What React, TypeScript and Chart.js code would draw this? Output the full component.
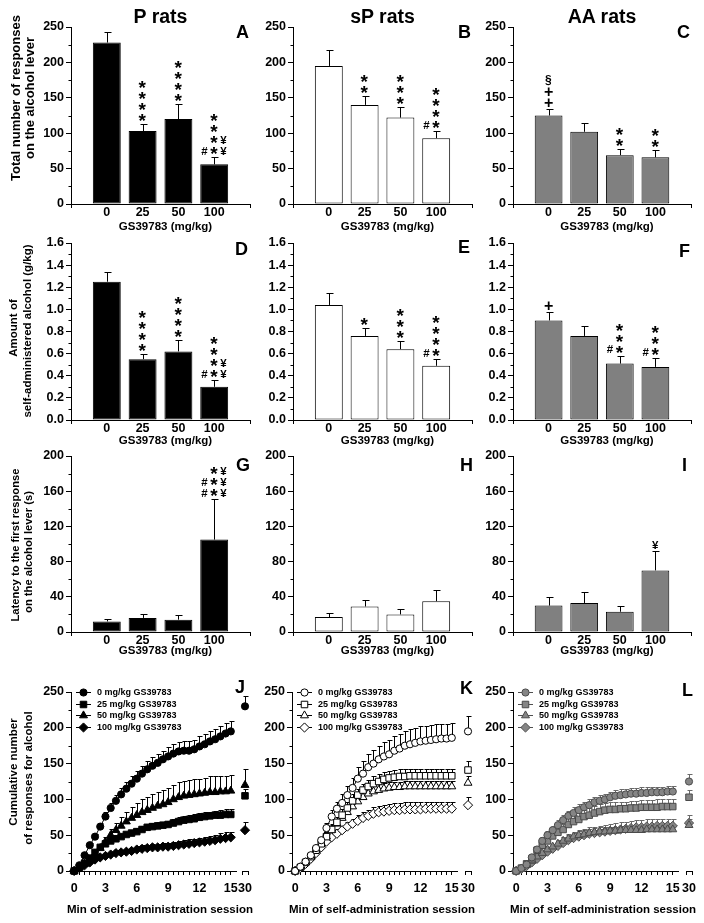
import React, { useEffect, useRef } from 'react';
import { Chart, registerables } from 'chart.js';

Chart.register(...registerables);

const ARIAL = '"Liberation Sans", Arial, sans-serif';

// ---------------- data ----------------
const doseLabels = ['0', '25', '50', '100'];
const strainTitles = ['P rats', 'sP rats', 'AA rats'];

// A-C: total number of responses on the alcohol lever
const responsesP = [228, 103, 120, 56];
const responsesPErr = [15, 10, 21, 10];
const responsesSP = [195, 140, 122, 93];
const responsesSPErr = [22, 12, 15, 10];
const responsesAA = [125, 102, 69, 66];
const responsesAAErr = [9, 12, 9, 10];

// D-F: amount of self-administered alcohol (g/kg)
const alcoholP = [1.25, 0.55, 0.62, 0.3];
const alcoholPErr = [0.09, 0.05, 0.1, 0.06];
const alcoholSP = [1.04, 0.76, 0.64, 0.49];
const alcoholSPErr = [0.11, 0.07, 0.07, 0.06];
const alcoholAA = [0.9, 0.76, 0.51, 0.48];
const alcoholAAErr = [0.08, 0.09, 0.07, 0.08];

// G-I: latency to the first response (s)
const latencyP = [12, 16, 14, 105];
const latencyPErr = [3, 5, 5, 46];
const latencySP = [17, 29, 20, 35];
const latencySPErr = [5, 7, 6, 13];
const latencyAA = [30, 33, 23, 70];
const latencyAAErr = [10, 12, 7, 22];

// significance marks per bar: [centre column, left column, right column], top to bottom
const sigA = [['', '', ''], ['****', '', ''], ['****', '', ''], ['****', '#', '¥¥']];
const sigB = [['', '', ''], ['**', '', ''], ['***', '', ''], ['****', '#', '']];
const sigC = [['§++', '', ''], ['', '', ''], ['**', '', ''], ['**', '', '']];
const sigD = [['', '', ''], ['****', '', ''], ['****', '', ''], ['****', '#', '¥¥']];
const sigE = [['', '', ''], ['*', '', ''], ['***', '', ''], ['****', '#', '']];
const sigF = [['+', '', ''], ['', '', ''], ['***', '#', ''], ['***', '#', '']];
const sigG = [['', '', ''], ['', '', ''], ['', '', ''], ['***', '##', '¥¥¥']];
const sigH = [['', '', ''], ['', '', ''], ['', '', ''], ['', '', '']];
const sigI = [['', '', ''], ['', '', ''], ['', '', ''], ['¥', '', '']];

// J-L: cumulative responses, every 30 s over 15 min, plus the 30-min value
const minutes = [0, 0.5, 1, 1.5, 2, 2.5, 3, 3.5, 4, 4.5, 5, 5.5, 6, 6.5, 7, 7.5, 8, 8.5, 9, 9.5, 10, 10.5, 11, 11.5, 12, 12.5, 13, 13.5, 14, 14.5, 15];
const lateMinute = 30;

const cumP0 = [0, 8, 22, 36, 48, 62, 76, 88, 98, 107, 115, 122, 129, 136, 142, 147, 151, 156, 160, 164, 167, 168, 168, 170, 174, 177, 181, 184, 188, 192, 195];
const cumP0Err = [0, 1, 2, 3, 4, 5, 6, 7, 8, 9, 10, 10, 11, 11, 12, 12, 12, 12, 13, 13, 13, 13, 13, 13, 14, 14, 14, 14, 14, 15, 15];
const cumP25 = [0, 5, 11, 18, 26, 33, 38, 42, 45, 48, 51, 53, 55, 58, 61, 62, 63, 64, 65, 67, 69, 71, 72, 73, 75, 76, 77, 78, 78, 79, 79];
const cumP25Err = [0, 1, 2, 2, 3, 3, 3, 4, 4, 4, 4, 4, 5, 5, 5, 5, 5, 5, 5, 5, 6, 6, 6, 6, 6, 6, 6, 6, 7, 7, 7];
const cumP50 = [0, 5, 10, 16, 24, 32, 41, 50, 57, 63, 69, 74, 78, 82, 85, 88, 91, 93, 96, 100, 103, 105, 106, 107, 108, 109, 110, 110, 111, 111, 112];
const cumP50Err = [0, 1, 2, 3, 4, 5, 6, 8, 10, 12, 14, 16, 17, 18, 19, 20, 20, 20, 20, 20, 21, 21, 21, 21, 21, 21, 22, 22, 22, 22, 22];
const cumP100 = [0, 4, 8, 12, 16, 19, 21, 23, 25, 26, 27, 28, 30, 31, 32, 33, 33, 34, 34, 35, 36, 37, 38, 39, 40, 41, 42, 43, 45, 46, 47];
const cumP100Err = [0, 1, 1, 2, 2, 3, 3, 3, 4, 4, 4, 4, 5, 5, 5, 5, 5, 5, 5, 5, 6, 6, 6, 6, 6, 7, 7, 7, 8, 8, 8];
const lateP = [230, 105, 120, 57];
const latePErr = [14, 10, 22, 11];

const cumSP0 = [0, 6, 13, 22, 32, 43, 60, 76, 87, 95, 106, 116, 129, 136, 145, 150, 156, 160, 163, 168, 171, 175, 177, 179, 181, 182, 183, 184, 185, 185, 186];
const cumSP0Err = [0, 1, 2, 3, 4, 5, 7, 9, 10, 12, 13, 14, 16, 17, 18, 19, 19, 20, 20, 20, 20, 20, 21, 21, 21, 21, 21, 21, 21, 21, 21];
const cumSP25 = [0, 5, 12, 20, 29, 38, 48, 58, 68, 78, 88, 98, 106, 113, 118, 122, 125, 128, 130, 131, 132, 132, 133, 133, 133, 133, 133, 133, 133, 133, 133];
const cumSP25Err = [0, 1, 2, 3, 4, 5, 6, 7, 8, 8, 9, 9, 9, 9, 9, 10, 10, 10, 10, 10, 10, 10, 10, 10, 10, 10, 10, 10, 10, 10, 10];
const cumSP50 = [0, 5, 12, 20, 29, 38, 48, 57, 66, 74, 82, 90, 97, 103, 108, 111, 113, 115, 116, 117, 117, 118, 118, 118, 118, 118, 118, 118, 118, 118, 118];
const cumSP50Err = [0, 1, 2, 3, 4, 5, 6, 7, 7, 8, 8, 8, 8, 8, 8, 8, 8, 8, 8, 8, 8, 8, 8, 8, 8, 8, 8, 8, 8, 8, 8];
const cumSP100 = [0, 4, 10, 17, 25, 33, 41, 47, 52, 57, 62, 66, 70, 74, 77, 80, 82, 83, 84, 85, 85, 86, 86, 86, 86, 87, 87, 87, 87, 87, 87];
const cumSP100Err = [0, 1, 2, 3, 3, 4, 5, 5, 6, 6, 7, 7, 8, 8, 8, 9, 9, 9, 9, 10, 10, 10, 10, 10, 10, 10, 10, 10, 10, 10, 10];
const lateSP = [195, 141, 123, 92];
const lateSPErr = [22, 12, 10, 11];

const cumAA0 = [0, 4, 9, 19, 30, 42, 50, 57, 64, 71, 77, 81, 85, 89, 92, 96, 98, 100, 103, 105, 106, 107, 108, 108, 109, 109, 110, 110, 110, 111, 111];
const cumAA0Err = [0, 1, 2, 3, 4, 5, 6, 6, 7, 7, 7, 8, 8, 8, 8, 8, 8, 8, 8, 8, 8, 8, 8, 8, 8, 8, 8, 8, 8, 8, 8];
const cumAA25 = [0, 4, 10, 17, 29, 36, 42, 49, 54, 58, 65, 69, 72, 76, 78, 81, 83, 85, 86, 86, 87, 87, 88, 88, 89, 89, 89, 89, 90, 90, 90];
const cumAA25Err = [0, 1, 2, 3, 4, 5, 6, 7, 8, 8, 9, 9, 9, 9, 10, 10, 10, 10, 10, 10, 10, 10, 10, 10, 10, 10, 10, 11, 11, 11, 11];
const cumAA50 = [0, 3, 8, 14, 20, 25, 30, 34, 38, 42, 45, 48, 50, 51, 53, 54, 55, 55, 56, 56, 57, 57, 57, 57, 57, 58, 58, 58, 58, 58, 58];
const cumAA50Err = [0, 1, 2, 2, 3, 3, 4, 4, 5, 5, 5, 5, 6, 6, 6, 6, 6, 6, 6, 6, 6, 6, 6, 6, 6, 6, 6, 6, 6, 6, 6];
const cumAA100 = [0, 3, 7, 12, 17, 22, 27, 31, 35, 39, 43, 46, 48, 50, 52, 53, 54, 55, 56, 57, 58, 59, 60, 61, 61, 62, 62, 63, 63, 63, 63];
const cumAA100Err = [0, 1, 2, 3, 4, 5, 6, 7, 7, 8, 8, 8, 9, 9, 9, 9, 9, 9, 9, 10, 10, 10, 10, 10, 10, 10, 10, 10, 10, 10, 10];
const lateAA = [125, 103, 64, 67];
const lateAAErr = [10, 10, 8, 11];

// ---------------- layout & style ----------------
const COLS = [
  { cx: 0, cw: 258, L: 71, R: 250 },
  { cx: 258, cw: 222, L: 293, R: 472 },
  { cx: 480, cw: 224, L: 513, R: 691 },
];
const BAR_ROWS = [
  { cy: 0, ch: 240, T: 27, B: 204 },
  { cy: 223, ch: 227, T: 243, B: 420 },
  { cy: 436, ch: 229, T: 456, B: 632 },
];
const LINE_COLS = [
  { cx: 0, cw: 246, L: 71, R: 236, late: 245 },
  { cx: 258, cw: 210, L: 292, R: 457, late: 468 },
  { cx: 480, cw: 210, L: 513, R: 678, late: 689 },
];
const LINE_ROW = { cy: 672, ch: 251, T: 692, B: 871 };

const tickFont = { family: ARIAL, size: 12.5, weight: 'bold' as const, lineHeight: 1 };
const barFills = ['#000000', '#ffffff', '#808080'];
const seriesStyles = [
  { line: '#000000', fill: '#000000', edge: '#000000', err: '#000000' },
  { line: '#000000', fill: '#ffffff', edge: '#000000', err: '#000000' },
  { line: '#505050', fill: '#858585', edge: '#4a4a4a', err: '#6a6a6a' },
];
const markerStyles = ['circle', 'rect', 'triangle', 'rectRot'];
const markerRadius = [3.6, 4.6, 4.6, 4.6];
const glyphSizes: Record<string, number> = { '*': 19, '+': 16, '§': 12, '#': 11.5, '¥': 11.5 };

// ---------------- drawing helpers ----------------
function drawGlyph(ctx: CanvasRenderingContext2D, ch: string, cx: number, cy: number) {
  ctx.save();
  ctx.font = `bold ${glyphSizes[ch] || 11.5}px ${ARIAL}`;
  ctx.fillStyle = '#000';
  ctx.textAlign = 'left';
  ctx.textBaseline = 'alphabetic';
  const m = ctx.measureText(ch);
  const x = cx - (m.actualBoundingBoxRight - m.actualBoundingBoxLeft) / 2;
  const y = cy + (m.actualBoundingBoxAscent - m.actualBoundingBoxDescent) / 2;
  ctx.fillText(ch, x, y);
  ctx.restore();
}

function drawMarker(ctx: CanvasRenderingContext2D, style: string, x: number, y: number, r: number) {
  ctx.beginPath();
  if (style === 'circle') ctx.arc(x, y, r, 0, Math.PI * 2);
  else if (style === 'rect') {
    const s = r * Math.SQRT1_2;
    ctx.rect(x - s, y - s, 2 * s, 2 * s);
  } else if (style === 'triangle') {
    ctx.moveTo(x, y - r);
    ctx.lineTo(x + r * Math.sin((2 * Math.PI) / 3), y - r * Math.cos((2 * Math.PI) / 3));
    ctx.lineTo(x + r * Math.sin((4 * Math.PI) / 3), y - r * Math.cos((4 * Math.PI) / 3));
  } else {
    ctx.moveTo(x - r, y);
    ctx.lineTo(x, y - r);
    ctx.lineTo(x + r, y);
    ctx.lineTo(x, y + r);
  }
  ctx.closePath();
  ctx.fill();
  ctx.stroke();
}

const decor = {
  id: 'decor',
  beforeDatasetsDraw(chart: any, _args: any, opts: any) {
    const ctx = chart.ctx;
    const ys = chart.scales.y;
    chart.data.datasets.forEach((ds: any, di: number) => {
      if (!ds.errorBars) return;
      const meta = chart.getDatasetMeta(di);
      ctx.save();
      ctx.strokeStyle = ds.errorColor || '#000';
      ctx.lineWidth = 1;
      meta.data.forEach((el: any, j: number) => {
        const e = ds.errorBars[j];
        if (!e) return;
        const v = ds.data[j].y;
        const x = Math.round(el.x) + 0.5;
        const yTop = Math.round(ys.getPixelForValue(v + e)) + 0.5;
        ctx.beginPath();
        ctx.moveTo(x, el.y);
        ctx.lineTo(x, yTop);
        ctx.moveTo(x - opts.cap, yTop);
        ctx.lineTo(x + opts.cap + 1, yTop);
        ctx.stroke();
      });
      ctx.restore();
    });
  },
  afterDraw(chart: any, _args: any, opts: any) {
    const ctx = chart.ctx;
    const ys = chart.scales.y;
    const area = chart.chartArea;
    if (opts.minorStep) {
      ctx.save();
      ctx.strokeStyle = '#000';
      ctx.lineWidth = 1;
      const ratio = Math.round(opts.majorStep / opts.minorStep);
      const count = Math.round((ys.max - ys.min) / opts.minorStep);
      const x = Math.round(area.left) + 0.5;
      for (let i = 1; i < count; i++) {
        if (i % ratio === 0) continue;
        const y = Math.round(ys.getPixelForValue(ys.min + i * opts.minorStep)) + 0.5;
        ctx.beginPath();
        ctx.moveTo(x - opts.minorLen, y);
        ctx.lineTo(x, y);
        ctx.stroke();
      }
      ctx.restore();
    }
    chart.data.datasets.forEach((ds: any, di: number) => {
      if (!ds.sig) return;
      const meta = chart.getDatasetMeta(di);
      meta.data.forEach((el: any, j: number) => {
        const marks = ds.sig[j];
        if (!marks) return;
        const top = ys.getPixelForValue(ds.data[j].y + ((ds.errorBars && ds.errorBars[j]) || 0));
        const base = top - opts.sigGap;
        const put = (str: string, dx: number) => {
          const chars = Array.from(str);
          chars.forEach((ch, k) => {
            const fromBottom = chars.length - 1 - k;
            drawGlyph(ctx, ch, el.x + dx, base - fromBottom * opts.sigStep);
          });
        };
        put(marks[0], 0);
        put(marks[1], -opts.sigSide);
        put(marks[2], opts.sigSide);
      });
    });
    if (opts.legend) {
      ctx.save();
      chart.data.datasets.forEach((ds: any, i: number) => {
        const y = Math.round(area.top + opts.legendTop + i * opts.legendGap) + 0.5;
        const x0 = area.left + opts.legendLeft;
        ctx.strokeStyle = ds.borderColor;
        ctx.lineWidth = 1;
        ctx.beginPath();
        ctx.moveTo(x0, y);
        ctx.lineTo(x0 + opts.legendLine, y);
        ctx.stroke();
        ctx.fillStyle = ds.pointBackgroundColor;
        ctx.strokeStyle = ds.pointBorderColor;
        drawMarker(ctx, ds.pointStyle, x0 + opts.legendLine / 2, y, ds.pointRadius);
        ctx.fillStyle = '#000';
        ctx.font = `bold ${opts.legendSize}px ${ARIAL}`;
        ctx.textBaseline = 'middle';
        ctx.textAlign = 'left';
        ctx.fillText(ds.label, x0 + opts.legendLine + opts.legendTextGap, y + 0.5);
      });
      ctx.restore();
    }
  },
};

// ---------------- chart configs ----------------
function barConfig(values: number[], errors: number[], sig: string[][], fill: string, yMax: number, yStep: number, yMinor: number, decimals: number, col: any, row: any) {
  const n = doseLabels.length;
  const xH = row.cy + row.ch - row.B;
  const yW = col.L - col.cx;
  return {
    type: 'bar',
    data: {
      datasets: [{
        data: values.map((v, i) => ({ x: i + 1, y: v })),
        backgroundColor: fill,
        borderColor: '#000',
        borderWidth: 1,
        borderSkipped: false,
        categoryPercentage: 1,
        barPercentage: 0.78,
        errorBars: errors,
        errorColor: '#000',
        sig,
      }],
    },
    options: {
      responsive: false,
      animation: false,
      events: [],
      layout: { padding: { top: row.T - row.cy, right: col.cx + col.cw - col.R, left: 0, bottom: 0 } },
      plugins: {
        legend: { display: false },
        tooltip: { enabled: false },
        decor: { cap: 3, minorStep: yMinor, majorStep: yStep, minorLen: 3, sigGap: 6.5, sigStep: 11, sigSide: 9.5 },
      },
      scales: {
        x: {
          type: 'linear', min: 0, max: n + 1, offset: false,
          afterBuildTicks: (s: any) => { s.ticks = [0, ...doseLabels.map((_, i) => i + 1), n + 1].map((value) => ({ value })); },
          afterFit: (s: any) => { s.height = xH; },
          ticks: { autoSkip: false, maxRotation: 0, minRotation: 0, padding: -1.5, color: '#000', font: tickFont, callback: (v: number) => doseLabels[v - 1] ?? '' },
          grid: { drawOnChartArea: false, tickLength: 4, offset: false, color: (c: any) => (c.tick && (c.tick.value === 0 || c.tick.value === n + 1) ? '#000' : 'rgba(0,0,0,0)') },
          border: { color: '#000', width: 1 },
        },
        y: {
          min: 0, max: yMax,
          afterFit: (s: any) => { s.width = yW; },
          ticks: { stepSize: yStep, padding: 2, color: '#000', font: tickFont, callback: (v: number) => Number(v).toFixed(decimals) },
          grid: { drawOnChartArea: false, tickLength: 5, color: '#000' },
          border: { color: '#000', width: 1 },
        },
      },
    },
    plugins: [decor],
  };
}

function lineDatasets(series: any[], style: any, late: boolean) {
  return series.map((s, i) => ({
    label: `${doseLabels[i]} mg/kg GS39783`,
    data: late ? [{ x: lateMinute, y: s.late }] : minutes.map((m, k) => ({ x: m, y: s.values[k] })),
    errorBars: late ? [s.lateErr] : s.errors,
    errorColor: style.err,
    borderColor: style.line,
    borderWidth: 1,
    backgroundColor: style.fill,
    pointStyle: markerStyles[i],
    pointRadius: markerRadius[i],
    pointBackgroundColor: style.fill,
    pointBorderColor: style.edge,
    pointBorderWidth: 1,
    showLine: !late,
    tension: 0,
    clip: false,
  }));
}

function lineConfig(series: any[], style: any, col: any) {
  const xH = LINE_ROW.cy + LINE_ROW.ch - LINE_ROW.B;
  return {
    type: 'line',
    data: { datasets: lineDatasets(series, style, false) },
    options: {
      responsive: false, animation: false, events: [],
      layout: { padding: { top: LINE_ROW.T - LINE_ROW.cy, right: col.cx + col.cw - col.R, left: 0, bottom: 0 } },
      plugins: {
        legend: { display: false }, tooltip: { enabled: false },
        decor: { cap: 2, minorStep: 25, majorStep: 50, minorLen: 3, legend: true, legendTop: 0, legendGap: 11.7, legendLeft: 5, legendLine: 15, legendTextGap: 6, legendSize: 9 },
      },
      scales: {
        x: {
          type: 'linear', min: -0.3, max: 15.5,
          afterBuildTicks: (s: any) => { s.ticks = minutes.map((value) => ({ value })); },
          afterFit: (s: any) => { s.height = xH; },
          ticks: { autoSkip: false, maxRotation: 0, minRotation: 0, padding: 7.75, color: '#000', font: tickFont, callback: (v: number) => (v % 3 === 0 ? String(v) : '') },
          grid: { drawOnChartArea: false, tickLength: 4, color: '#000' },
          border: { color: '#000', width: 1 },
        },
        y: {
          min: 0, max: 250,
          afterFit: (s: any) => { s.width = col.L - col.cx; },
          ticks: { stepSize: 50, padding: 2, color: '#000', font: tickFont },
          grid: { drawOnChartArea: false, tickLength: 5, color: '#000' },
          border: { color: '#000', width: 1 },
        },
      },
    },
    plugins: [decor],
  };
}

function lateConfig(series: any[], style: any) {
  const xH = LINE_ROW.cy + LINE_ROW.ch - LINE_ROW.B;
  return {
    type: 'line',
    data: { datasets: lineDatasets(series, style, true) },
    options: {
      responsive: false, animation: false, events: [],
      layout: { padding: { top: LINE_ROW.T - LINE_ROW.cy, right: 10, left: 10, bottom: 0 } },
      plugins: { legend: { display: false }, tooltip: { enabled: false }, decor: { cap: 2 } },
      scales: {
        x: {
          type: 'linear', min: lateMinute - 0.5, max: lateMinute + 0.5,
          afterBuildTicks: (s: any) => { s.ticks = [lateMinute - 0.5, lateMinute, lateMinute + 0.5].map((value) => ({ value })); },
          afterFit: (s: any) => { s.height = xH; },
          ticks: { autoSkip: false, maxRotation: 0, minRotation: 0, padding: 7.75, color: '#000', font: tickFont, callback: (v: number) => (v === lateMinute ? String(lateMinute) : '') },
          grid: { drawOnChartArea: false, tickLength: 4, color: (c: any) => (c.tick && c.tick.value === lateMinute ? 'rgba(0,0,0,0)' : '#000') },
          border: { color: '#000', width: 1 },
        },
        y: { display: false, min: 0, max: 250 },
      },
    },
    plugins: [decor],
  };
}

// ---------------- components ----------------
function ChartBox({ config, left, top, width, height }: any) {
  const ref = useRef<HTMLCanvasElement>(null);
  useEffect(() => {
    const chart = new Chart(ref.current as HTMLCanvasElement, config);
    return () => chart.destroy();
  }, []);
  return <canvas ref={ref} width={width} height={height} style={{ position: 'absolute', left, top, width, height }} />;
}

function Label({ x, y, text, size, align = 'center', rotate = false }: any) {
  const tx = align === 'center' ? '-50%' : align === 'right' ? '-100%' : '0';
  return (
    <div style={{
      position: 'absolute', left: x, top: y,
      transform: `translate(${tx}, -50%)${rotate ? ' rotate(-90deg)' : ''}`,
      fontFamily: ARIAL, fontWeight: 'bold', fontSize: size, lineHeight: 1,
      whiteSpace: 'nowrap', color: '#000',
    }}>{text}</div>
  );
}

export default function App() {
  const barPanels = [
    [responsesP, responsesPErr, sigA, 250, 50, 25, 0],
    [responsesSP, responsesSPErr, sigB, 250, 50, 25, 0],
    [responsesAA, responsesAAErr, sigC, 250, 50, 25, 0],
    [alcoholP, alcoholPErr, sigD, 1.6, 0.2, 0.1, 1],
    [alcoholSP, alcoholSPErr, sigE, 1.6, 0.2, 0.1, 1],
    [alcoholAA, alcoholAAErr, sigF, 1.6, 0.2, 0.1, 1],
    [latencyP, latencyPErr, sigG, 200, 40, 20, 0],
    [latencySP, latencySPErr, sigH, 200, 40, 20, 0],
    [latencyAA, latencyAAErr, sigI, 200, 40, 20, 0],
  ] as any[];

  const lineSeries = [
    [
      { values: cumP0, errors: cumP0Err, late: lateP[0], lateErr: latePErr[0] },
      { values: cumP25, errors: cumP25Err, late: lateP[1], lateErr: latePErr[1] },
      { values: cumP50, errors: cumP50Err, late: lateP[2], lateErr: latePErr[2] },
      { values: cumP100, errors: cumP100Err, late: lateP[3], lateErr: latePErr[3] },
    ],
    [
      { values: cumSP0, errors: cumSP0Err, late: lateSP[0], lateErr: lateSPErr[0] },
      { values: cumSP25, errors: cumSP25Err, late: lateSP[1], lateErr: lateSPErr[1] },
      { values: cumSP50, errors: cumSP50Err, late: lateSP[2], lateErr: lateSPErr[2] },
      { values: cumSP100, errors: cumSP100Err, late: lateSP[3], lateErr: lateSPErr[3] },
    ],
    [
      { values: cumAA0, errors: cumAA0Err, late: lateAA[0], lateErr: lateAAErr[0] },
      { values: cumAA25, errors: cumAA25Err, late: lateAA[1], lateErr: lateAAErr[1] },
      { values: cumAA50, errors: cumAA50Err, late: lateAA[2], lateErr: lateAAErr[2] },
      { values: cumAA100, errors: cumAA100Err, late: lateAA[3], lateErr: lateAAErr[3] },
    ],
  ];

  const letters = [
    ['A', 249, 32], ['B', 471, 32], ['C', 690, 32],
    ['D', 248, 249], ['E', 470, 247], ['F', 690, 251],
    ['G', 250, 465], ['H', 473, 465], ['I', 687, 465],
    ['J', 245, 687], ['K', 473, 688], ['L', 693, 690],
  ] as any[];

  const yTitles = [
    ['Total number of responses', 14.5, 98, 13],
    ['on the alcohol lever', 29, 98, 13],
    ['Amount of', 14, 328, 11.5],
    ['self-administered alcohol (g/kg)', 27.5, 331, 11.5],
    ['Latency to the first response', 16, 545, 11.2],
    ['on the alcohol lever (s)', 29, 552, 11.2],
    ['Cumulative number', 14, 772, 11.5],
    ['of responses for alcohol', 28.5, 778, 11.5],
  ] as any[];

  const xTitleRowsY = [227, 441, 651];

  return (
    <div style={{ position: 'absolute', left: 0, top: 0, width: 704, height: 923, background: '#fff', overflow: 'hidden' }}>
      {barPanels.map((p, idx) => {
        const col = COLS[idx % 3];
        const row = BAR_ROWS[Math.floor(idx / 3)];
        const cfg = barConfig(p[0], p[1], p[2], barFills[idx % 3], p[3], p[4], p[5], p[6], col, row);
        return <ChartBox key={`bar${idx}`} config={cfg} left={col.cx} top={row.cy} width={col.cw} height={row.ch} />;
      })}
      {lineSeries.map((series, idx) => {
        const col = LINE_COLS[idx];
        return <ChartBox key={`line${idx}`} config={lineConfig(series, seriesStyles[idx], col)} left={col.cx} top={LINE_ROW.cy} width={col.cw} height={LINE_ROW.ch} />;
      })}
      {lineSeries.map((series, idx) => {
        const col = LINE_COLS[idx];
        return <ChartBox key={`late${idx}`} config={lateConfig(series, seriesStyles[idx])} left={col.late - 13} top={LINE_ROW.cy} width={26} height={LINE_ROW.ch} />;
      })}
      {strainTitles.map((t, i) => (
        <Label key={t} text={t} x={(COLS[i].L + COLS[i].R) / 2} y={17} size={19.5} />
      ))}
      {letters.map(([t, x, y]) => (
        <Label key={t} text={t} x={x} y={y} size={18} align="right" />
      ))}
      {yTitles.map(([t, x, y, s]) => (
        <Label key={t} text={t} x={x} y={y} size={s} rotate />
      ))}
      {xTitleRowsY.map((y, r) => COLS.map((c, i) => (
        <Label key={`xt${r}${i}`} text="GS39783 (mg/kg)" x={(c.L + c.R) / 2 + 5} y={y} size={11.5} />
      )))}
      {LINE_COLS.map((c, i) => (
        <Label key={`lx${i}`} text="Min of self-administration session" x={(c.L + c.late + 4) / 2} y={910} size={11.5} />
      ))}
    </div>
  );
}
